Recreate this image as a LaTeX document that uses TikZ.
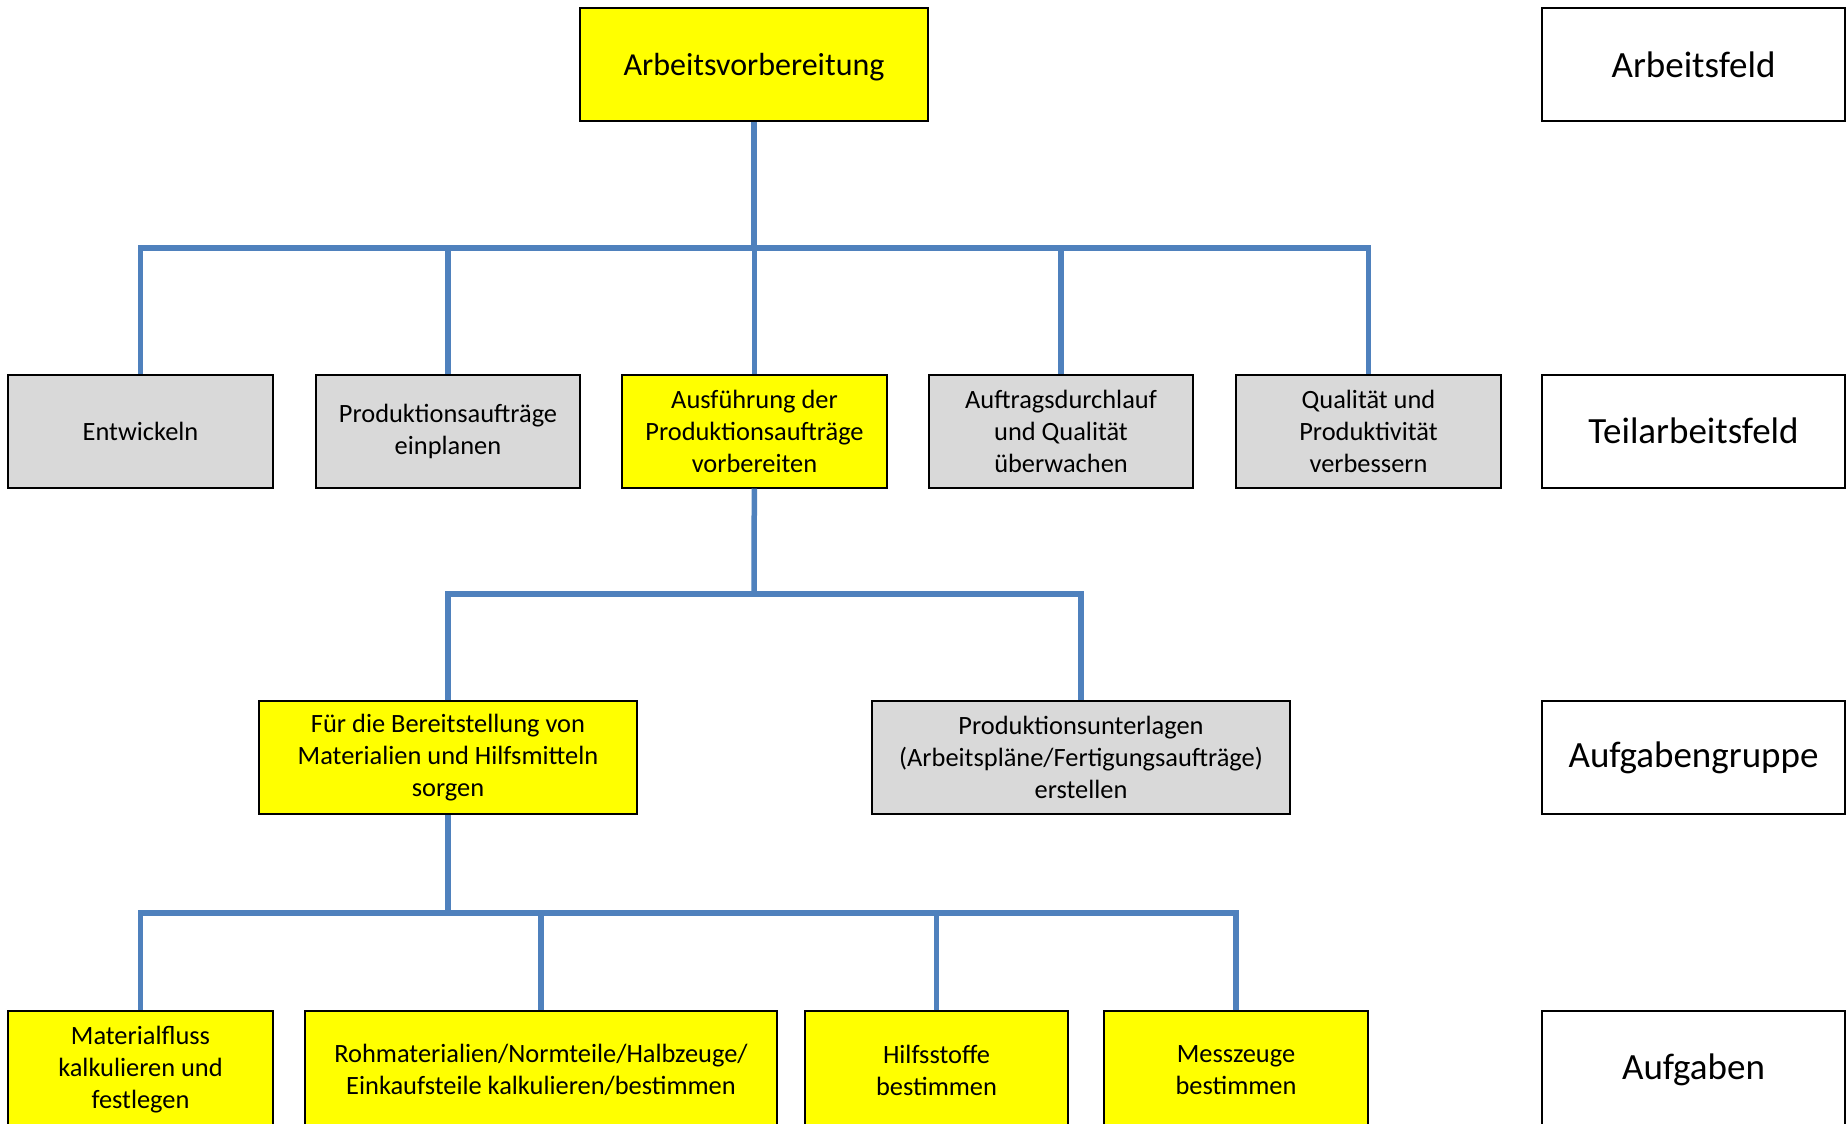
\documentclass[tikz,border=0pt]{standalone}
\usepackage{fontspec}
\setmainfont{Carlito}
\usetikzlibrary{positioning}
\definecolor{boxyellow}{RGB}{255,255,0}
\definecolor{boxgray}{RGB}{217,217,217}
\definecolor{linkblue}{RGB}{79,129,189}
\tikzset{
  box/.style={draw=black, line width=1pt, inner sep=2pt, align=center, minimum height=56.5pt, font=\fontsize{13.2}{16}\selectfont},
  yelbox/.style={box, fill=boxyellow},
  graybox/.style={box, fill=boxgray},
  levelbox/.style={box, fill=white, minimum width=151.5pt, font=\fontsize{18.5}{22}\selectfont},
  link/.style={draw=linkblue, line width=2.75pt},
}

\begin{document}
\begin{tikzpicture}[x=0.5pt, y=-0.5pt]
  \clip (0,0) rectangle (1847,1124);

  % Arbeitsfeld
  \node[yelbox, minimum width=174pt, text depth=0pt, font=\fontsize{16}{19}\selectfont] (arb) at (754,64.5) {Arbeitsvorbereitung};

  % Teilarbeitsfelder
  \node[graybox, minimum width=132.5pt] (ent) at (140.5,431) {Entwickeln};
  \node[graybox, minimum width=132pt] (ein) at (448,431) {Produktionsaufträge\\einplanen};
  \node[yelbox, minimum width=132.5pt] (aus) at (754.5,431) {Ausführung der\\Produktionsaufträge\\vorbereiten};
  \node[graybox, minimum width=132pt] (auf) at (1061,431) {Auftragsdurchlauf\\und Qualität\\überwachen};
  \node[graybox, minimum width=132.5pt] (qual) at (1368.5,431) {Qualität und\\Produktivität\\verbessern};

  % Aufgabengruppen
  \node[yelbox, minimum width=189pt] (bereit) at (448,757.5) {Für die Bereitstellung von\\Materialien und Hilfsmitteln\\sorgen};
  \node[graybox, minimum width=209pt] (unterl) at (1081,757.5) {Produktionsunterlagen\\(Arbeitspläne/Fertigungsaufträge)\\erstellen};

  % Aufgaben
  \node[yelbox, minimum width=132.5pt, minimum height=59pt] (mat) at (140.5,1070) {Materialfluss\\kalkulieren und\\festlegen};
  \node[yelbox, minimum width=236pt, minimum height=59pt] (roh) at (541,1070) {Rohmaterialien/Normteile/Halbzeuge/\\Einkaufsteile kalkulieren/bestimmen};
  \node[yelbox, minimum width=131.5pt, minimum height=59pt] (hilf) at (936.5,1070) {Hilfsstoffe\\bestimmen};
  \node[yelbox, minimum width=132pt, minimum height=59pt] (mess) at (1236,1070) {Messzeuge\\bestimmen};

  % Ebenen rechts
  \node[levelbox] (feld1) at (1693.5,64.5) {Arbeitsfeld};
  \node[levelbox] (feld2) at (1693.5,431) {Teilarbeitsfeld};
  \node[levelbox] (feld3) at (1693.5,757.5) {Aufgabengruppe};
  \node[levelbox, minimum height=59pt] (feld4) at (1693.5,1070) {Aufgaben};

  % Verbindungen
  \coordinate (bus1) at (754,248);
  \coordinate (bus2) at (754,594);
  \coordinate (bus3) at (448,913);

  \draw[link] (arb) -- (bus1);
  \foreach \n in {ent,ein,aus,auf,qual}
    \draw[link] (\n) -- (\n |- bus1) -- (bus1);

  \draw[link] (aus) -- (bus2);
  \foreach \n in {bereit,unterl}
    \draw[link] (\n) -- (\n |- bus2) -- (bus2);

  \draw[link] (bereit) -- (bus3);
  \foreach \n in {mat,roh,hilf,mess}
    \draw[link] (\n) -- (\n |- bus3) -- (bus3);
\end{tikzpicture}
\end{document}
